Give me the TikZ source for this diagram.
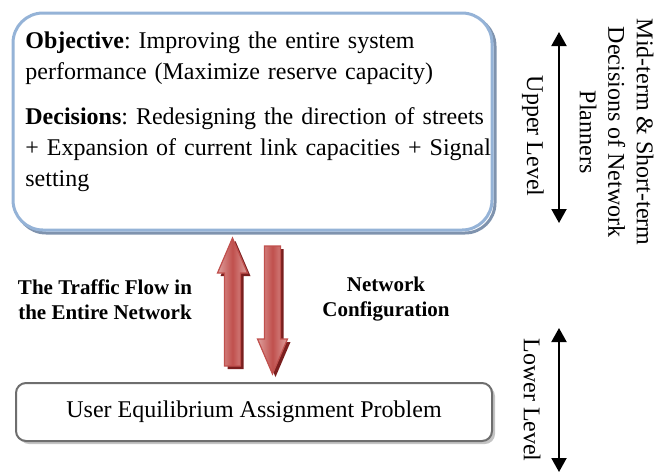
\documentclass[tikz,border=0pt]{standalone}
\usepackage{fontspec}
\setmainfont{Liberation Serif}
\usetikzlibrary{arrows.meta,calc}

\definecolor{boxblue}{HTML}{95B3D7}
\definecolor{boxshade}{HTML}{7F93AE}
\definecolor{boxgray}{HTML}{6E6E6E}
\definecolor{shadegray}{HTML}{C4C4C4}
\definecolor{arrowred}{HTML}{C0504D}
\definecolor{arrowpink}{HTML}{DE9F9D}
\definecolor{arrowdark}{HTML}{7A1E1E}

\tikzset{
  upbox/.style={draw=boxblue, line width=1.5pt, rounded corners=15pt, fill=white,
    minimum width=239.5pt, minimum height=108.5pt, inner sep=0pt},
  upshade/.style={draw=boxshade, line width=1.5pt, rounded corners=15pt},
  uptext/.style={anchor=north west, inner sep=0pt, text width=236pt, align=left,
    font=\fontsize{12}{15.5}\selectfont\frenchspacing},
  lowbox/.style={draw=boxgray, line width=1pt, rounded corners=5pt, fill=white,
    minimum width=238pt, minimum height=29pt, font=\fontsize{12}{14}\selectfont},
  lowshade/.style={fill=shadegray, rounded corners=5pt},
  flowlabel/.style={align=center, inner sep=0pt, font=\fontsize{10.5}{12.5}\selectfont\bfseries},
  levellabel/.style={rotate=-90, inner sep=0pt, font=\fontsize{12}{14}\selectfont},
  levelarrow/.style={line width=1pt, {Triangle[width=7.5pt,length=7pt]}-{Triangle[width=7.5pt,length=7pt]}},
  fatarrow/.style={draw=arrowred, line width=0.6pt, left color=arrowpink, right color=arrowpink,
    middle color=arrowred,
    preaction={fill=arrowdark, transform canvas={xshift=1.5pt, yshift=-1.5pt}}},
  pics/bigarrow/.style={code={
    \shadedraw[fatarrow] (-8,0) -- (-8,-93) -- (-15,-93) -- (0,-128) -- (15,-93) -- (8,-93) -- (8,0) -- cycle;
  }}
}

\begin{document}
\begin{tikzpicture}[x=0.5pt, y=-0.5pt]
  \useasboundingbox (0,0) rectangle (654,473);

  % upper level box
  \coordinate (upc) at (252.5,121.5);
  \draw[upshade] ($(upc)+(-236.5,-105.5)$) rectangle ($(upc)+(242.5,111.5)$);
  \node[upbox] (upper) at (upc) {};
  \node[uptext] (uppertext) at (25,31)
    {\textbf{Objective}: Improving the entire system\\
     performance (Maximize reserve capacity)\\[7pt]
     \textbf{Decisions}: Redesigning the direction of streets\\
     + Expansion of current link capacities + Signal\\
     setting};

  % lower level box
  \coordinate (lowc) at (254,412);
  \fill[lowshade] ($(lowc)+(-235,-26)$) rectangle ($(lowc)+(241,32)$);
  \node[lowbox] (lower) at (lowc) {User Equilibrium Assignment Problem};

  % exchange between levels
  \coordinate (upTail) at (232.5,366);
  \coordinate (dnTail) at (272.5,246);
  \pic at (upTail) {bigarrow};
  \pic[rotate=180] at (dnTail) {bigarrow};
  \node[flowlabel] (flowLbl) at (105,300) {The Traffic Flow in\\the Entire Network};
  \node[flowlabel] (confLbl) at (386,299.5) {Network\\Configuration};

  % levels on the right
  \coordinate (upTop) at (559,32);
  \coordinate (upBot) at (559,223);
  \coordinate (lowTop) at (559,328);
  \coordinate (lowBot) at (559,472);
  \draw[levelarrow] (upTop) -- (upBot);
  \draw[levelarrow] (lowTop) -- (lowBot);
  \node[levellabel] (upLbl) at (533,136) {Upper Level};
  \node[levellabel] (lowLbl) at (532,400) {Lower Level};
  \node[levellabel, align=center, font=\fontsize{12}{14.25}\selectfont] (planLbl) at (616.5,132)
    {Mid-term \& Short-term\\Decisions of Network\\Planners};
\end{tikzpicture}
\end{document}
